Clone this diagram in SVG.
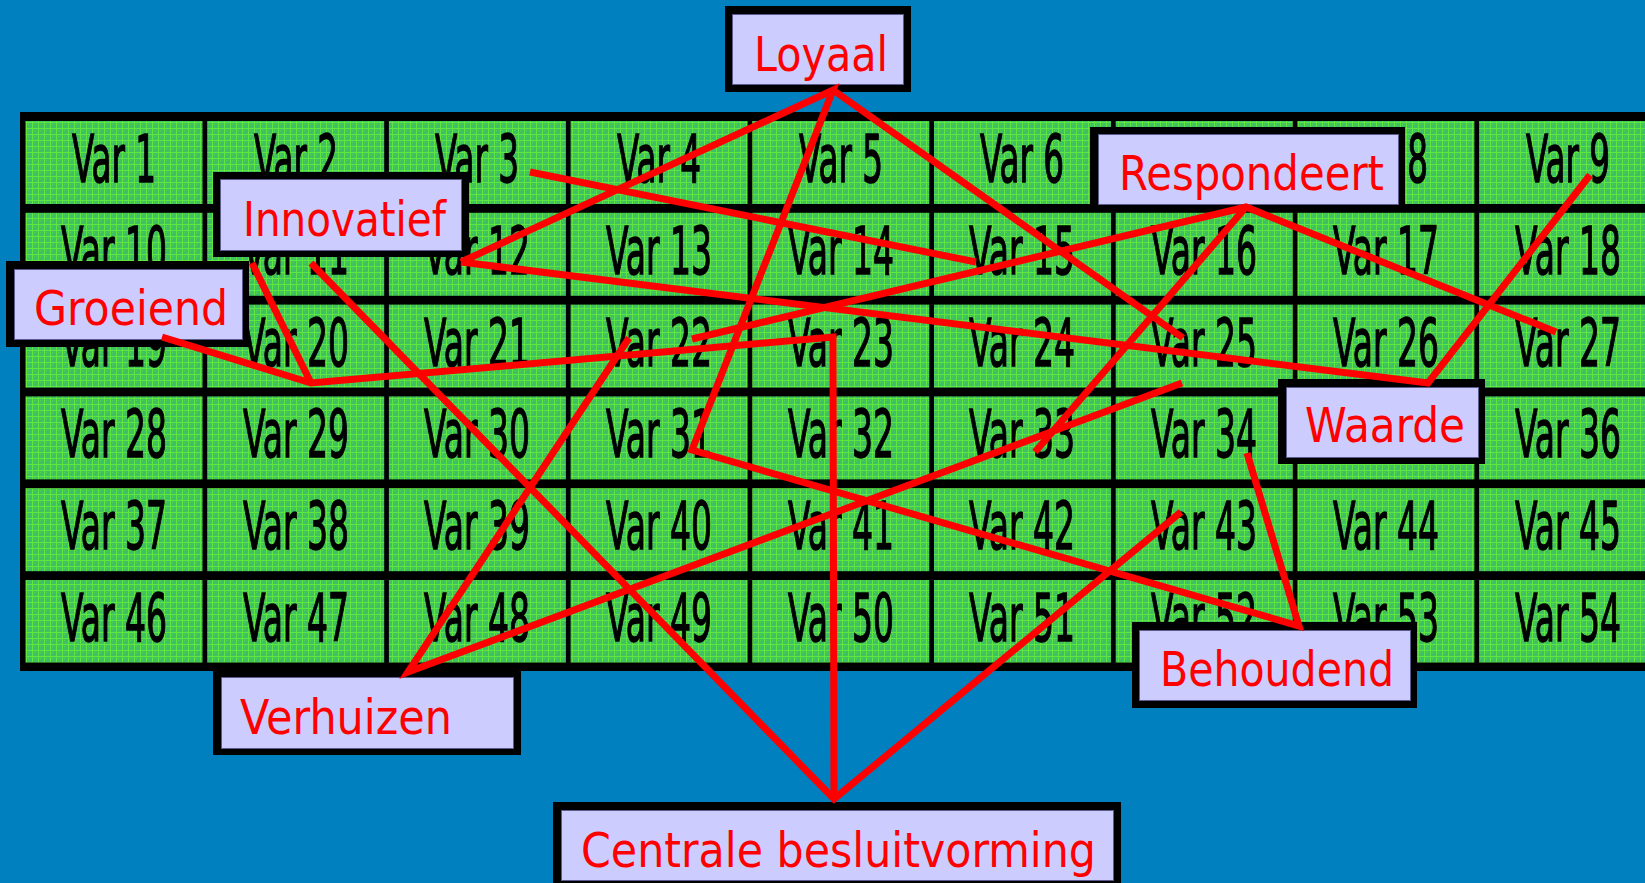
<svg xmlns="http://www.w3.org/2000/svg" width="1645" height="883" viewBox="0 0 1645 883">
  <defs>
    <!-- fine mesh texture used in the variable cells -->
    <pattern id="mesh" width="6" height="6" patternUnits="userSpaceOnUse">
      <rect width="6" height="6" fill="#3fbf66"/>
      <rect x="0" y="2" width="6" height="1" fill="#5fe63f"/>
      <rect x="2" y="0" width="1" height="6" fill="#5fe63f"/>
      <rect x="4" y="4" width="1" height="1" fill="#57d94f"/>
    </pattern>
    <style>
      .cell { fill: url(#mesh); }
      .var { font-family: "DejaVu Sans Condensed", "DejaVu Sans", sans-serif; font-size: 66px; fill: #000; stroke: #000; stroke-width: 1.4; text-anchor: middle; }
      .frame { fill: #000; }
      .pad { fill: #ccccff; stroke: #5a5a8c; stroke-width: 1; }
      .lbl { font-family: "DejaVu Sans", "Liberation Sans", sans-serif; font-size: 48px; fill: #ff0000; }
      .link { fill: none; stroke: #ff0000; stroke-width: 7; stroke-linejoin: miter; stroke-linecap: butt; }
    </style>
  </defs>

  <!-- backdrop -->
  <rect width="1645" height="883" fill="#0080bf"/>

  <!-- table frame (runs off the right edge) -->
  <rect x="20" y="112" width="1625" height="559" fill="#000"/>

  <!-- row 1 -->
  <g id="var-1"><rect class="cell" x="25.5" y="121" width="177" height="83"/><text class="var" x="114" y="182" textLength="84" lengthAdjust="spacingAndGlyphs">Var 1</text></g>
  <g id="var-2"><rect class="cell" x="207.2" y="121" width="177" height="83"/><text class="var" x="296" y="182" textLength="84" lengthAdjust="spacingAndGlyphs">Var 2</text></g>
  <g id="var-3"><rect class="cell" x="388.9" y="121" width="177" height="83"/><text class="var" x="477" y="182" textLength="84" lengthAdjust="spacingAndGlyphs">Var 3</text></g>
  <g id="var-4"><rect class="cell" x="570.6" y="121" width="177" height="83"/><text class="var" x="659" y="182" textLength="84" lengthAdjust="spacingAndGlyphs">Var 4</text></g>
  <g id="var-5"><rect class="cell" x="752.3" y="121" width="177" height="83"/><text class="var" x="841" y="182" textLength="84" lengthAdjust="spacingAndGlyphs">Var 5</text></g>
  <g id="var-6"><rect class="cell" x="934" y="121" width="177" height="83"/><text class="var" x="1022" y="182" textLength="84" lengthAdjust="spacingAndGlyphs">Var 6</text></g>
  <g id="var-7"><rect class="cell" x="1115.7" y="121" width="177" height="83"/><text class="var" x="1204" y="182" textLength="84" lengthAdjust="spacingAndGlyphs">Var 7</text></g>
  <g id="var-8"><rect class="cell" x="1297.4" y="121" width="177" height="83"/><text class="var" x="1386" y="182" textLength="84" lengthAdjust="spacingAndGlyphs">Var 8</text></g>
  <g id="var-9"><rect class="cell" x="1479.1" y="121" width="166" height="83"/><text class="var" x="1568" y="182" textLength="84" lengthAdjust="spacingAndGlyphs">Var 9</text></g>

  <!-- row 2 -->
  <g id="var-10"><rect class="cell" x="25.5" y="212.8" width="177" height="83"/><text class="var" x="114" y="274" textLength="106" lengthAdjust="spacingAndGlyphs">Var 10</text></g>
  <g id="var-11"><rect class="cell" x="207.2" y="212.8" width="177" height="83"/><text class="var" x="296" y="274" textLength="106" lengthAdjust="spacingAndGlyphs">Var 11</text></g>
  <g id="var-12"><rect class="cell" x="388.9" y="212.8" width="177" height="83"/><text class="var" x="477" y="274" textLength="106" lengthAdjust="spacingAndGlyphs">Var 12</text></g>
  <g id="var-13"><rect class="cell" x="570.6" y="212.8" width="177" height="83"/><text class="var" x="659" y="274" textLength="106" lengthAdjust="spacingAndGlyphs">Var 13</text></g>
  <g id="var-14"><rect class="cell" x="752.3" y="212.8" width="177" height="83"/><text class="var" x="841" y="274" textLength="106" lengthAdjust="spacingAndGlyphs">Var 14</text></g>
  <g id="var-15"><rect class="cell" x="934" y="212.8" width="177" height="83"/><text class="var" x="1022" y="274" textLength="106" lengthAdjust="spacingAndGlyphs">Var 15</text></g>
  <g id="var-16"><rect class="cell" x="1115.7" y="212.8" width="177" height="83"/><text class="var" x="1204" y="274" textLength="106" lengthAdjust="spacingAndGlyphs">Var 16</text></g>
  <g id="var-17"><rect class="cell" x="1297.4" y="212.8" width="177" height="83"/><text class="var" x="1386" y="274" textLength="106" lengthAdjust="spacingAndGlyphs">Var 17</text></g>
  <g id="var-18"><rect class="cell" x="1479.1" y="212.8" width="166" height="83"/><text class="var" x="1568" y="274" textLength="106" lengthAdjust="spacingAndGlyphs">Var 18</text></g>

  <!-- row 3 -->
  <g id="var-19"><rect class="cell" x="25.5" y="304.6" width="177" height="83"/><text class="var" x="114" y="366" textLength="106" lengthAdjust="spacingAndGlyphs">Var 19</text></g>
  <g id="var-20"><rect class="cell" x="207.2" y="304.6" width="177" height="83"/><text class="var" x="296" y="366" textLength="106" lengthAdjust="spacingAndGlyphs">Var 20</text></g>
  <g id="var-21"><rect class="cell" x="388.9" y="304.6" width="177" height="83"/><text class="var" x="477" y="366" textLength="106" lengthAdjust="spacingAndGlyphs">Var 21</text></g>
  <g id="var-22"><rect class="cell" x="570.6" y="304.6" width="177" height="83"/><text class="var" x="659" y="366" textLength="106" lengthAdjust="spacingAndGlyphs">Var 22</text></g>
  <g id="var-23"><rect class="cell" x="752.3" y="304.6" width="177" height="83"/><text class="var" x="841" y="366" textLength="106" lengthAdjust="spacingAndGlyphs">Var 23</text></g>
  <g id="var-24"><rect class="cell" x="934" y="304.6" width="177" height="83"/><text class="var" x="1022" y="366" textLength="106" lengthAdjust="spacingAndGlyphs">Var 24</text></g>
  <g id="var-25"><rect class="cell" x="1115.7" y="304.6" width="177" height="83"/><text class="var" x="1204" y="366" textLength="106" lengthAdjust="spacingAndGlyphs">Var 25</text></g>
  <g id="var-26"><rect class="cell" x="1297.4" y="304.6" width="177" height="83"/><text class="var" x="1386" y="366" textLength="106" lengthAdjust="spacingAndGlyphs">Var 26</text></g>
  <g id="var-27"><rect class="cell" x="1479.1" y="304.6" width="166" height="83"/><text class="var" x="1568" y="366" textLength="106" lengthAdjust="spacingAndGlyphs">Var 27</text></g>

  <!-- row 4 -->
  <g id="var-28"><rect class="cell" x="25.5" y="396.4" width="177" height="83"/><text class="var" x="114" y="457" textLength="106" lengthAdjust="spacingAndGlyphs">Var 28</text></g>
  <g id="var-29"><rect class="cell" x="207.2" y="396.4" width="177" height="83"/><text class="var" x="296" y="457" textLength="106" lengthAdjust="spacingAndGlyphs">Var 29</text></g>
  <g id="var-30"><rect class="cell" x="388.9" y="396.4" width="177" height="83"/><text class="var" x="477" y="457" textLength="106" lengthAdjust="spacingAndGlyphs">Var 30</text></g>
  <g id="var-31"><rect class="cell" x="570.6" y="396.4" width="177" height="83"/><text class="var" x="659" y="457" textLength="106" lengthAdjust="spacingAndGlyphs">Var 31</text></g>
  <g id="var-32"><rect class="cell" x="752.3" y="396.4" width="177" height="83"/><text class="var" x="841" y="457" textLength="106" lengthAdjust="spacingAndGlyphs">Var 32</text></g>
  <g id="var-33"><rect class="cell" x="934" y="396.4" width="177" height="83"/><text class="var" x="1022" y="457" textLength="106" lengthAdjust="spacingAndGlyphs">Var 33</text></g>
  <g id="var-34"><rect class="cell" x="1115.7" y="396.4" width="177" height="83"/><text class="var" x="1204" y="457" textLength="106" lengthAdjust="spacingAndGlyphs">Var 34</text></g>
  <g id="var-35"><rect class="cell" x="1297.4" y="396.4" width="177" height="83"/><text class="var" x="1386" y="457" textLength="106" lengthAdjust="spacingAndGlyphs">Var 35</text></g>
  <g id="var-36"><rect class="cell" x="1479.1" y="396.4" width="166" height="83"/><text class="var" x="1568" y="457" textLength="106" lengthAdjust="spacingAndGlyphs">Var 36</text></g>

  <!-- row 5 -->
  <g id="var-37"><rect class="cell" x="25.5" y="488.2" width="177" height="83"/><text class="var" x="114" y="549" textLength="106" lengthAdjust="spacingAndGlyphs">Var 37</text></g>
  <g id="var-38"><rect class="cell" x="207.2" y="488.2" width="177" height="83"/><text class="var" x="296" y="549" textLength="106" lengthAdjust="spacingAndGlyphs">Var 38</text></g>
  <g id="var-39"><rect class="cell" x="388.9" y="488.2" width="177" height="83"/><text class="var" x="477" y="549" textLength="106" lengthAdjust="spacingAndGlyphs">Var 39</text></g>
  <g id="var-40"><rect class="cell" x="570.6" y="488.2" width="177" height="83"/><text class="var" x="659" y="549" textLength="106" lengthAdjust="spacingAndGlyphs">Var 40</text></g>
  <g id="var-41"><rect class="cell" x="752.3" y="488.2" width="177" height="83"/><text class="var" x="841" y="549" textLength="106" lengthAdjust="spacingAndGlyphs">Var 41</text></g>
  <g id="var-42"><rect class="cell" x="934" y="488.2" width="177" height="83"/><text class="var" x="1022" y="549" textLength="106" lengthAdjust="spacingAndGlyphs">Var 42</text></g>
  <g id="var-43"><rect class="cell" x="1115.7" y="488.2" width="177" height="83"/><text class="var" x="1204" y="549" textLength="106" lengthAdjust="spacingAndGlyphs">Var 43</text></g>
  <g id="var-44"><rect class="cell" x="1297.4" y="488.2" width="177" height="83"/><text class="var" x="1386" y="549" textLength="106" lengthAdjust="spacingAndGlyphs">Var 44</text></g>
  <g id="var-45"><rect class="cell" x="1479.1" y="488.2" width="166" height="83"/><text class="var" x="1568" y="549" textLength="106" lengthAdjust="spacingAndGlyphs">Var 45</text></g>

  <!-- row 6 -->
  <g id="var-46"><rect class="cell" x="25.5" y="580" width="177" height="82.5"/><text class="var" x="114" y="641" textLength="106" lengthAdjust="spacingAndGlyphs">Var 46</text></g>
  <g id="var-47"><rect class="cell" x="207.2" y="580" width="177" height="82.5"/><text class="var" x="296" y="641" textLength="106" lengthAdjust="spacingAndGlyphs">Var 47</text></g>
  <g id="var-48"><rect class="cell" x="388.9" y="580" width="177" height="82.5"/><text class="var" x="477" y="641" textLength="106" lengthAdjust="spacingAndGlyphs">Var 48</text></g>
  <g id="var-49"><rect class="cell" x="570.6" y="580" width="177" height="82.5"/><text class="var" x="659" y="641" textLength="106" lengthAdjust="spacingAndGlyphs">Var 49</text></g>
  <g id="var-50"><rect class="cell" x="752.3" y="580" width="177" height="82.5"/><text class="var" x="841" y="641" textLength="106" lengthAdjust="spacingAndGlyphs">Var 50</text></g>
  <g id="var-51"><rect class="cell" x="934" y="580" width="177" height="82.5"/><text class="var" x="1022" y="641" textLength="106" lengthAdjust="spacingAndGlyphs">Var 51</text></g>
  <g id="var-52"><rect class="cell" x="1115.7" y="580" width="177" height="82.5"/><text class="var" x="1204" y="641" textLength="106" lengthAdjust="spacingAndGlyphs">Var 52</text></g>
  <g id="var-53"><rect class="cell" x="1297.4" y="580" width="177" height="82.5"/><text class="var" x="1386" y="641" textLength="106" lengthAdjust="spacingAndGlyphs">Var 53</text></g>
  <g id="var-54"><rect class="cell" x="1479.1" y="580" width="166" height="82.5"/><text class="var" x="1568" y="641" textLength="106" lengthAdjust="spacingAndGlyphs">Var 54</text></g>

  <!-- factor labels -->
  <g id="loyaal">
    <rect class="frame" x="725" y="6" width="186" height="86"/>
    <rect class="pad" x="732.5" y="14.5" width="171" height="70"/>
    <text class="lbl" x="754" y="71" textLength="134" lengthAdjust="spacingAndGlyphs">Loyaal</text>
  </g>
  <g id="innovatief">
    <rect class="frame" x="213" y="172" width="256" height="85"/>
    <rect class="pad" x="220.5" y="179.5" width="241" height="71"/>
    <text class="lbl" x="243" y="236" textLength="203" lengthAdjust="spacingAndGlyphs">Innovatief</text>
  </g>
  <g id="groeiend">
    <rect class="frame" x="6" y="261" width="243" height="86"/>
    <rect class="pad" x="14.5" y="269.5" width="228" height="70"/>
    <text class="lbl" x="34" y="325" textLength="194" lengthAdjust="spacingAndGlyphs">Groeiend</text>
  </g>
  <g id="respondeert">
    <rect class="frame" x="1090" y="127" width="315" height="85"/>
    <rect class="pad" x="1098.5" y="134.5" width="300" height="70"/>
    <text class="lbl" x="1119" y="190" textLength="265" lengthAdjust="spacingAndGlyphs">Respondeert</text>
  </g>
  <g id="waarde">
    <rect class="frame" x="1278" y="379" width="207" height="85"/>
    <rect class="pad" x="1286.5" y="387.5" width="192" height="70"/>
    <text class="lbl" x="1305" y="442" textLength="160" lengthAdjust="spacingAndGlyphs">Waarde</text>
  </g>
  <g id="verhuizen">
    <rect class="frame" x="213" y="669" width="308" height="86"/>
    <rect class="pad" x="221.5" y="677.5" width="292" height="71"/>
    <text class="lbl" x="240" y="734" textLength="212" lengthAdjust="spacingAndGlyphs">Verhuizen</text>
  </g>
  <g id="behoudend">
    <rect class="frame" x="1132" y="622" width="285" height="86"/>
    <rect class="pad" x="1139.5" y="630.5" width="271" height="70"/>
    <text class="lbl" x="1160" y="686" textLength="234" lengthAdjust="spacingAndGlyphs">Behoudend</text>
  </g>
  <g id="centrale-besluitvorming">
    <rect class="frame" x="553" y="802" width="568" height="90"/>
    <rect class="pad" x="561.5" y="810.5" width="552" height="70"/>
    <text class="lbl" x="581" y="867" textLength="515" lengthAdjust="spacingAndGlyphs">Centrale besluitvorming</text>
  </g>

  <!-- connectors between factors and variables -->
  <g id="connectors">
    <polyline class="link" points="461,262 833,90 692,450 1299,626 1247,453"/>
    <line class="link" x1="833" y1="90" x2="1183" y2="338"/>
    <line class="link" x1="530" y1="172" x2="976" y2="262"/>
    <polyline class="link" points="461,262 1428,383 1590,175"/>
    <polyline class="link" points="692,339 1246,207 1556,332"/>
    <line class="link" x1="1246" y1="207" x2="1035" y2="452"/>
    <polyline class="link" points="162,337 311,383 833,337 834,799"/>
    <line class="link" x1="252" y1="263" x2="311" y2="383"/>
    <polyline class="link" points="311,263 834,799 1181,512"/>
    <polyline class="link" points="629,338 408,672 1182,383"/>
  </g>
</svg>
